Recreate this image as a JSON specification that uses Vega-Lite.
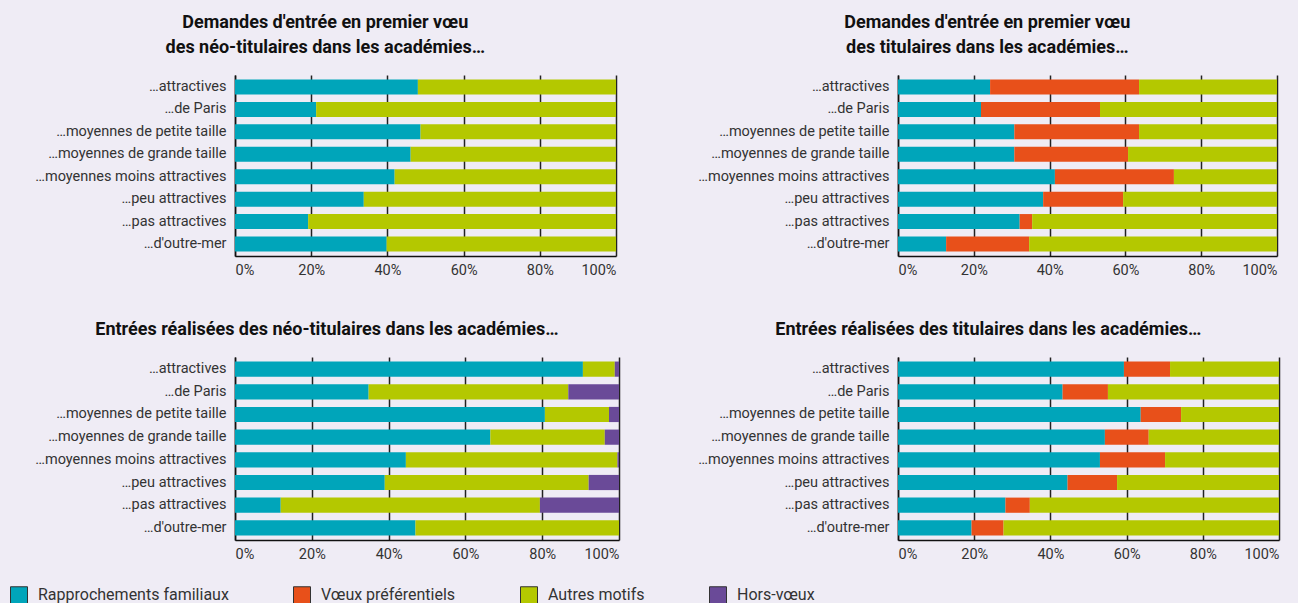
{
  "$schema": "https://vega.github.io/schema/vega-lite/v6.json",
  "background": "#EFECF5",
  "padding": {"left": 10, "top": 14, "right": 20, "bottom": 0},
  "datasets": {
    "motifs": [
      {"m": "Rapprochements familiaux", "o": 1},
      {"m": "Vœux préférentiels", "o": 2},
      {"m": "Autres motifs", "o": 3},
      {"m": "Hors-vœux", "o": 4}
    ],
    "d": [
      {"p": 1, "c": "…attractives", "Rapprochements familiaux": 48.0, "Autres motifs": 52.0},
      {"p": 1, "c": "…de Paris", "Rapprochements familiaux": 21.3, "Autres motifs": 78.7},
      {"p": 1, "c": "…moyennes de petite taille", "Rapprochements familiaux": 48.7, "Autres motifs": 51.3},
      {"p": 1, "c": "…moyennes de grande taille", "Rapprochements familiaux": 46.1, "Autres motifs": 53.9},
      {"p": 1, "c": "…moyennes moins attractives", "Rapprochements familiaux": 41.9, "Autres motifs": 58.1},
      {"p": 1, "c": "…peu attractives", "Rapprochements familiaux": 33.8, "Autres motifs": 66.2},
      {"p": 1, "c": "…pas attractives", "Rapprochements familiaux": 19.2, "Autres motifs": 80.8},
      {"p": 1, "c": "…d'outre-mer", "Rapprochements familiaux": 39.8, "Autres motifs": 60.2},
      {"p": 2, "c": "…attractives", "Rapprochements familiaux": 24.3, "Vœux préférentiels": 39.3, "Autres motifs": 36.4},
      {"p": 2, "c": "…de Paris", "Rapprochements familiaux": 21.9, "Vœux préférentiels": 31.4, "Autres motifs": 46.7},
      {"p": 2, "c": "…moyennes de petite taille", "Rapprochements familiaux": 30.7, "Vœux préférentiels": 32.9, "Autres motifs": 36.4},
      {"p": 2, "c": "…moyennes de grande taille", "Rapprochements familiaux": 30.7, "Vœux préférentiels": 30.0, "Autres motifs": 39.3},
      {"p": 2, "c": "…moyennes moins attractives", "Rapprochements familiaux": 41.4, "Vœux préférentiels": 31.4, "Autres motifs": 27.2},
      {"p": 2, "c": "…peu attractives", "Rapprochements familiaux": 38.3, "Vœux préférentiels": 21.1, "Autres motifs": 40.6},
      {"p": 2, "c": "…pas attractives", "Rapprochements familiaux": 32.1, "Vœux préférentiels": 3.3, "Autres motifs": 64.6},
      {"p": 2, "c": "…d'outre-mer", "Rapprochements familiaux": 12.7, "Vœux préférentiels": 21.9, "Autres motifs": 65.4},
      {"p": 3, "c": "…attractives", "Rapprochements familiaux": 90.6, "Autres motifs": 8.3, "Hors-vœux": 1.1},
      {"p": 3, "c": "…de Paris", "Rapprochements familiaux": 34.8, "Autres motifs": 52.0, "Hors-vœux": 13.2},
      {"p": 3, "c": "…moyennes de petite taille", "Rapprochements familiaux": 80.7, "Autres motifs": 16.7, "Hors-vœux": 2.6},
      {"p": 3, "c": "…moyennes de grande taille", "Rapprochements familiaux": 66.5, "Autres motifs": 29.8, "Hors-vœux": 3.7},
      {"p": 3, "c": "…moyennes moins attractives", "Rapprochements familiaux": 44.5, "Autres motifs": 55.1, "Hors-vœux": 0.4},
      {"p": 3, "c": "…peu attractives", "Rapprochements familiaux": 39.0, "Autres motifs": 53.1, "Hors-vœux": 7.9},
      {"p": 3, "c": "…pas attractives", "Rapprochements familiaux": 11.9, "Autres motifs": 67.5, "Hors-vœux": 20.6},
      {"p": 3, "c": "…d'outre-mer", "Rapprochements familiaux": 47.0, "Autres motifs": 53.0},
      {"p": 4, "c": "…attractives", "Rapprochements familiaux": 59.3, "Vœux préférentiels": 12.1, "Autres motifs": 28.6},
      {"p": 4, "c": "…de Paris", "Rapprochements familiaux": 43.2, "Vœux préférentiels": 11.9, "Autres motifs": 44.9},
      {"p": 4, "c": "…moyennes de petite taille", "Rapprochements familiaux": 63.7, "Vœux préférentiels": 10.6, "Autres motifs": 25.7},
      {"p": 4, "c": "…moyennes de grande taille", "Rapprochements familiaux": 54.3, "Vœux préférentiels": 11.5, "Autres motifs": 34.2},
      {"p": 4, "c": "…moyennes moins attractives", "Rapprochements familiaux": 53.0, "Vœux préférentiels": 17.1, "Autres motifs": 29.9},
      {"p": 4, "c": "…peu attractives", "Rapprochements familiaux": 44.5, "Vœux préférentiels": 13.0, "Autres motifs": 42.5},
      {"p": 4, "c": "…pas attractives", "Rapprochements familiaux": 28.2, "Vœux préférentiels": 6.4, "Autres motifs": 65.4},
      {"p": 4, "c": "…d'outre-mer", "Rapprochements familiaux": 19.3, "Vœux préférentiels": 8.4, "Autres motifs": 72.3}
    ]
  },
  "config": {
    "font": "Roboto",
    "view": {"stroke": null},
    "title": {"font": "Roboto", "fontSize": 18, "fontWeight": "bold", "color": "#111", "anchor": "middle", "frame": "bounds", "offset": 18, "lineHeight": 25},
    "axis": {"labelFont": "Roboto", "labelFontSize": 14.5, "labelColor": "#333", "labelLimit": 300, "domainColor": "#111", "domainWidth": 1.5, "ticks": false, "title": null},
    "legend": {"orient": "none", "legendX": -225, "legendY": 511, "direction": "horizontal", "title": null, "symbolType": "square", "symbolSize": 289, "symbolStrokeColor": "#333", "symbolStrokeWidth": 1, "symbolOpacity": 1, "columnPadding": 62, "labelOffset": 10, "labelFont": "Roboto", "labelFontSize": 16, "labelColor": "#333", "labelLimit": 300}
  },
  "spacing": 44,
  "vconcat": [
    {
      "spacing": 81,
      "hconcat": [
        {
          "title": {"text": ["Demandes d'entrée en premier vœu", "des néo-titulaires dans les académies…"]},
          "data": {"name": "d"},
          "transform": [{"filter": "datum.p == 1"}, {"fold": ["Rapprochements familiaux", "Vœux préférentiels", "Autres motifs", "Hors-vœux"], "as": ["m", "v"]}, {"filter": "isValid(datum.v)"}, {"lookup": "m", "from": {"data": {"name": "motifs"}, "key": "m", "fields": ["o"]}}],
          "width": 381, "height": 181,
          "mark": {"type": "bar"},
          "encoding": {
            "y": {"field": "c", "type": "nominal", "sort": ["…attractives", "…de Paris", "…moyennes de petite taille", "…moyennes de grande taille", "…moyennes moins attractives", "…peu attractives", "…pas attractives", "…d'outre-mer"], "scale": {"paddingInner": 0.33, "paddingOuter": 0.2}, "axis": {"labelPadding": 9}},
            "x": {"field": "v", "type": "quantitative", "stack": "zero", "scale": {"domain": [0, 100], "nice": false}, "axis": {"values": [0, 20, 40, 60, 80, 100], "labelExpr": "datum.value + '%'", "grid": true, "gridColor": "#222", "gridWidth": 1.5, "labelPadding": 7}},
            "order": {"field": "o", "type": "quantitative"},
            "color": {"field": "m", "type": "nominal", "sort": ["Rapprochements familiaux", "Vœux préférentiels", "Autres motifs", "Hors-vœux"], "scale": {"domain": ["Rapprochements familiaux", "Vœux préférentiels", "Autres motifs", "Hors-vœux"], "range": ["#00A5BA", "#E8501A", "#B4C800", "#6A4A98"]}}
          }
        },
        {
          "title": {"text": ["Demandes d'entrée en premier vœu", "des titulaires dans les académies…"]},
          "data": {"name": "d"},
          "transform": [{"filter": "datum.p == 2"}, {"fold": ["Rapprochements familiaux", "Vœux préférentiels", "Autres motifs", "Hors-vœux"], "as": ["m", "v"]}, {"filter": "isValid(datum.v)"}, {"lookup": "m", "from": {"data": {"name": "motifs"}, "key": "m", "fields": ["o"]}}],
          "width": 379, "height": 181,
          "mark": {"type": "bar"},
          "encoding": {
            "y": {"field": "c", "type": "nominal", "sort": ["…attractives", "…de Paris", "…moyennes de petite taille", "…moyennes de grande taille", "…moyennes moins attractives", "…peu attractives", "…pas attractives", "…d'outre-mer"], "scale": {"paddingInner": 0.33, "paddingOuter": 0.2}, "axis": {"labelPadding": 9}},
            "x": {"field": "v", "type": "quantitative", "stack": "zero", "scale": {"domain": [0, 100], "nice": false}, "axis": {"values": [0, 20, 40, 60, 80, 100], "labelExpr": "datum.value + '%'", "grid": true, "gridColor": "#222", "gridWidth": 1.5, "labelPadding": 7}},
            "order": {"field": "o", "type": "quantitative"},
            "color": {"field": "m", "type": "nominal", "sort": ["Rapprochements familiaux", "Vœux préférentiels", "Autres motifs", "Hors-vœux"]}
          }
        }
      ]
    },
    {
      "spacing": 78,
      "hconcat": [
        {
          "title": {"text": "Entrées réalisées des néo-titulaires dans les académies…"},
          "data": {"name": "d"},
          "transform": [{"filter": "datum.p == 3"}, {"fold": ["Rapprochements familiaux", "Vœux préférentiels", "Autres motifs", "Hors-vœux"], "as": ["m", "v"]}, {"filter": "isValid(datum.v)"}, {"lookup": "m", "from": {"data": {"name": "motifs"}, "key": "m", "fields": ["o"]}}],
          "width": 384, "height": 183,
          "mark": {"type": "bar"},
          "encoding": {
            "y": {"field": "c", "type": "nominal", "sort": ["…attractives", "…de Paris", "…moyennes de petite taille", "…moyennes de grande taille", "…moyennes moins attractives", "…peu attractives", "…pas attractives", "…d'outre-mer"], "scale": {"paddingInner": 0.33, "paddingOuter": 0.2}, "axis": {"labelPadding": 9}},
            "x": {"field": "v", "type": "quantitative", "stack": "zero", "scale": {"domain": [0, 100], "nice": false}, "axis": {"values": [0, 20, 40, 60, 80, 100], "labelExpr": "datum.value + '%'", "grid": true, "gridColor": "#222", "gridWidth": 1.5, "labelPadding": 7}},
            "order": {"field": "o", "type": "quantitative"},
            "color": {"field": "m", "type": "nominal", "sort": ["Rapprochements familiaux", "Vœux préférentiels", "Autres motifs", "Hors-vœux"]}
          }
        },
        {
          "title": {"text": "Entrées réalisées des titulaires dans les académies…"},
          "data": {"name": "d"},
          "transform": [{"filter": "datum.p == 4"}, {"fold": ["Rapprochements familiaux", "Vœux préférentiels", "Autres motifs", "Hors-vœux"], "as": ["m", "v"]}, {"filter": "isValid(datum.v)"}, {"lookup": "m", "from": {"data": {"name": "motifs"}, "key": "m", "fields": ["o"]}}],
          "width": 381, "height": 183,
          "mark": {"type": "bar"},
          "encoding": {
            "y": {"field": "c", "type": "nominal", "sort": ["…attractives", "…de Paris", "…moyennes de petite taille", "…moyennes de grande taille", "…moyennes moins attractives", "…peu attractives", "…pas attractives", "…d'outre-mer"], "scale": {"paddingInner": 0.33, "paddingOuter": 0.2}, "axis": {"labelPadding": 9}},
            "x": {"field": "v", "type": "quantitative", "stack": "zero", "scale": {"domain": [0, 100], "nice": false}, "axis": {"values": [0, 20, 40, 60, 80, 100], "labelExpr": "datum.value + '%'", "grid": true, "gridColor": "#222", "gridWidth": 1.5, "labelPadding": 7}},
            "order": {"field": "o", "type": "quantitative"},
            "color": {"field": "m", "type": "nominal", "sort": ["Rapprochements familiaux", "Vœux préférentiels", "Autres motifs", "Hors-vœux"]}
          }
        }
      ]
    }
  ]
}
